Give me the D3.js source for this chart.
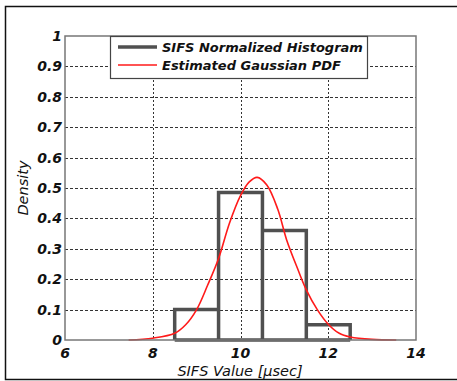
<!DOCTYPE html>
<html>
<head>
<meta charset="utf-8">
<script src="https://cdn.jsdelivr.net/npm/d3@7"></script>
<style>
  body { margin: 0; background: #fff; }
  svg { display: block; }
  .tick-label { font-family: "DejaVu Sans", Verdana, sans-serif; font-weight: bold; font-style: italic; font-size: 14px; fill: #111; }
  .axis-title { font-family: "DejaVu Sans", Verdana, sans-serif; font-style: italic; font-size: 14.5px; fill: #111; }
  .legend-text { font-family: "DejaVu Sans", Verdana, sans-serif; font-weight: bold; font-style: italic; font-size: 13px; fill: #111; }
</style>
</head>
<body>
<svg id="chart" width="457" height="381"></svg>
<script>
'use strict';

// histogram bins (edges) and normalized density per bin
var binEdges = [8.5, 9.5, 10.5, 11.5, 12.5];
var binDensity = [0.1, 0.485, 0.36, 0.05];

// estimated gaussian pdf
var pdfX = [7.45, 8.0, 8.5, 8.75, 9.0, 9.25, 9.5, 9.75, 10.0, 10.2, 10.38, 10.6, 10.85, 11.05, 11.3, 11.5, 11.75, 12.0, 12.25, 12.5, 13.0, 13.55];
var pdfY = [0, 0.006, 0.022, 0.05, 0.1, 0.18, 0.268, 0.385, 0.475, 0.52, 0.535, 0.51, 0.43, 0.33, 0.235, 0.165, 0.1, 0.052, 0.022, 0.01, 0.002, 0];

var xTicks = [6, 8, 10, 12, 14];
var yTicks = [0, 0.1, 0.2, 0.3, 0.4, 0.5, 0.6, 0.7, 0.8, 0.9, 1];
var legendLabels = ['SIFS Normalized Histogram', 'Estimated Gaussian PDF'];

var plot = {left: 65, top: 36, right: 416, bottom: 340};

var svg = d3.select('#chart');

// outer frame (right side is cut off in the original)
svg.append('path')
  .attr('d', 'M457,6.5 H5.5 V379.5 H457')
  .attr('fill', 'none')
  .attr('stroke', '#111')
  .attr('stroke-width', 1.5);

var x = d3.scaleLinear().domain([6, 14]).range([plot.left, plot.right]);
var y = d3.scaleLinear().domain([0, 1]).range([plot.bottom, plot.top]);

// grid
var grid = svg.append('g').attr('class', 'grid');
grid.selectAll('line.h')
  .data(yTicks.filter(function (d) { return d > 0 && d < 1; }))
  .enter()
  .append('line')
  .attr('x1', plot.left).attr('x2', plot.right)
  .attr('y1', function (d) { return Math.round(y(d)) + 0.5; })
  .attr('y2', function (d) { return Math.round(y(d)) + 0.5; })
  .attr('stroke', '#333')
  .attr('stroke-dasharray', '3,2');

grid.selectAll('line.v')
  .data(xTicks.filter(function (d) { return d > 6 && d < 14; }))
  .enter()
  .append('line')
  .attr('y1', plot.top).attr('y2', plot.bottom)
  .attr('x1', function (d) { return Math.round(x(d)) + 0.5; })
  .attr('x2', function (d) { return Math.round(x(d)) + 0.5; })
  .attr('stroke', '#333')
  .attr('stroke-dasharray', '2,2');

// histogram outline
var hist = svg.append('g').attr('class', 'hist');
var histPath = d3.path();
histPath.moveTo(x(binEdges[0]), y(0));
binDensity.forEach(function (d, i) {
  histPath.lineTo(x(binEdges[i]), y(d));
  histPath.lineTo(x(binEdges[i + 1]), y(d));
  histPath.lineTo(x(binEdges[i + 1]), y(0));
  histPath.moveTo(x(binEdges[i + 1]), y(0));
});
hist.append('path')
  .attr('d', histPath.toString())
  .attr('fill', 'none')
  .attr('stroke', '#505050')
  .attr('stroke-width', 3.5)
  .attr('stroke-linejoin', 'miter');
// baseline under bins
hist.append('line')
  .attr('x1', x(binEdges[0])).attr('x2', x(binEdges[binEdges.length - 1]))
  .attr('y1', y(0)).attr('y2', y(0))
  .attr('stroke', '#505050')
  .attr('stroke-width', 3.5);

// gaussian pdf
var pdfData = pdfX.map(function (v, i) { return {x: v, y: pdfY[i]}; });
var line = d3.line()
  .x(function (d) { return x(d.x); })
  .y(function (d) { return y(d.y); })
  .curve(d3.curveCatmullRom);
svg.append('path')
  .datum(pdfData)
  .attr('d', line)
  .attr('fill', 'none')
  .attr('stroke', '#ff1a1a')
  .attr('stroke-width', 1.6);

// plot border
svg.append('rect')
  .attr('x', plot.left).attr('y', plot.top)
  .attr('width', plot.right - plot.left)
  .attr('height', plot.bottom - plot.top)
  .attr('fill', 'none')
  .attr('stroke', '#777')
  .attr('stroke-width', 1.5);

// tick labels
svg.append('g').selectAll('text')
  .data(yTicks)
  .enter()
  .append('text')
  .attr('class', 'tick-label')
  .attr('x', plot.left - 3)
  .attr('y', function (d) { return y(d) + 5; })
  .attr('text-anchor', 'end')
  .text(function (d) { return d3.format('~g')(d); });

svg.append('g').selectAll('text')
  .data(xTicks)
  .enter()
  .append('text')
  .attr('class', 'tick-label')
  .attr('x', function (d) { return x(d); })
  .attr('y', plot.bottom + 18)
  .attr('text-anchor', 'middle')
  .text(function (d) { return d; });

// axis titles
svg.append('text')
  .attr('class', 'axis-title')
  .attr('x', 240)
  .attr('y', 376)
  .attr('text-anchor', 'middle')
  .text('SIFS Value [\u03bcsec]');

svg.append('text')
  .attr('class', 'axis-title')
  .attr('transform', 'translate(28,' + 188 + ') rotate(-90)')
  .attr('text-anchor', 'middle')
  .text('Density');

// legend
var legend = svg.append('g').attr('class', 'legend');
legend.append('rect')
  .attr('x', 110.5).attr('y', 36.5)
  .attr('width', 257).attr('height', 42)
  .attr('fill', '#fff')
  .attr('stroke', '#444')
  .attr('stroke-width', 1.2);

var legendColors = ['#505050', '#ff1a1a'];
var legendWidths = [3.5, 1.6];
legendLabels.forEach(function (label, i) {
  var ly = 47 + i * 18;
  legend.append('line')
    .attr('x1', 118).attr('x2', 157)
    .attr('y1', ly).attr('y2', ly)
    .attr('stroke', legendColors[i])
    .attr('stroke-width', legendWidths[i]);
  legend.append('text')
    .attr('class', 'legend-text')
    .attr('x', 162)
    .attr('y', ly + 5)
    .text(label);
});
</script>
</body>
</html>
